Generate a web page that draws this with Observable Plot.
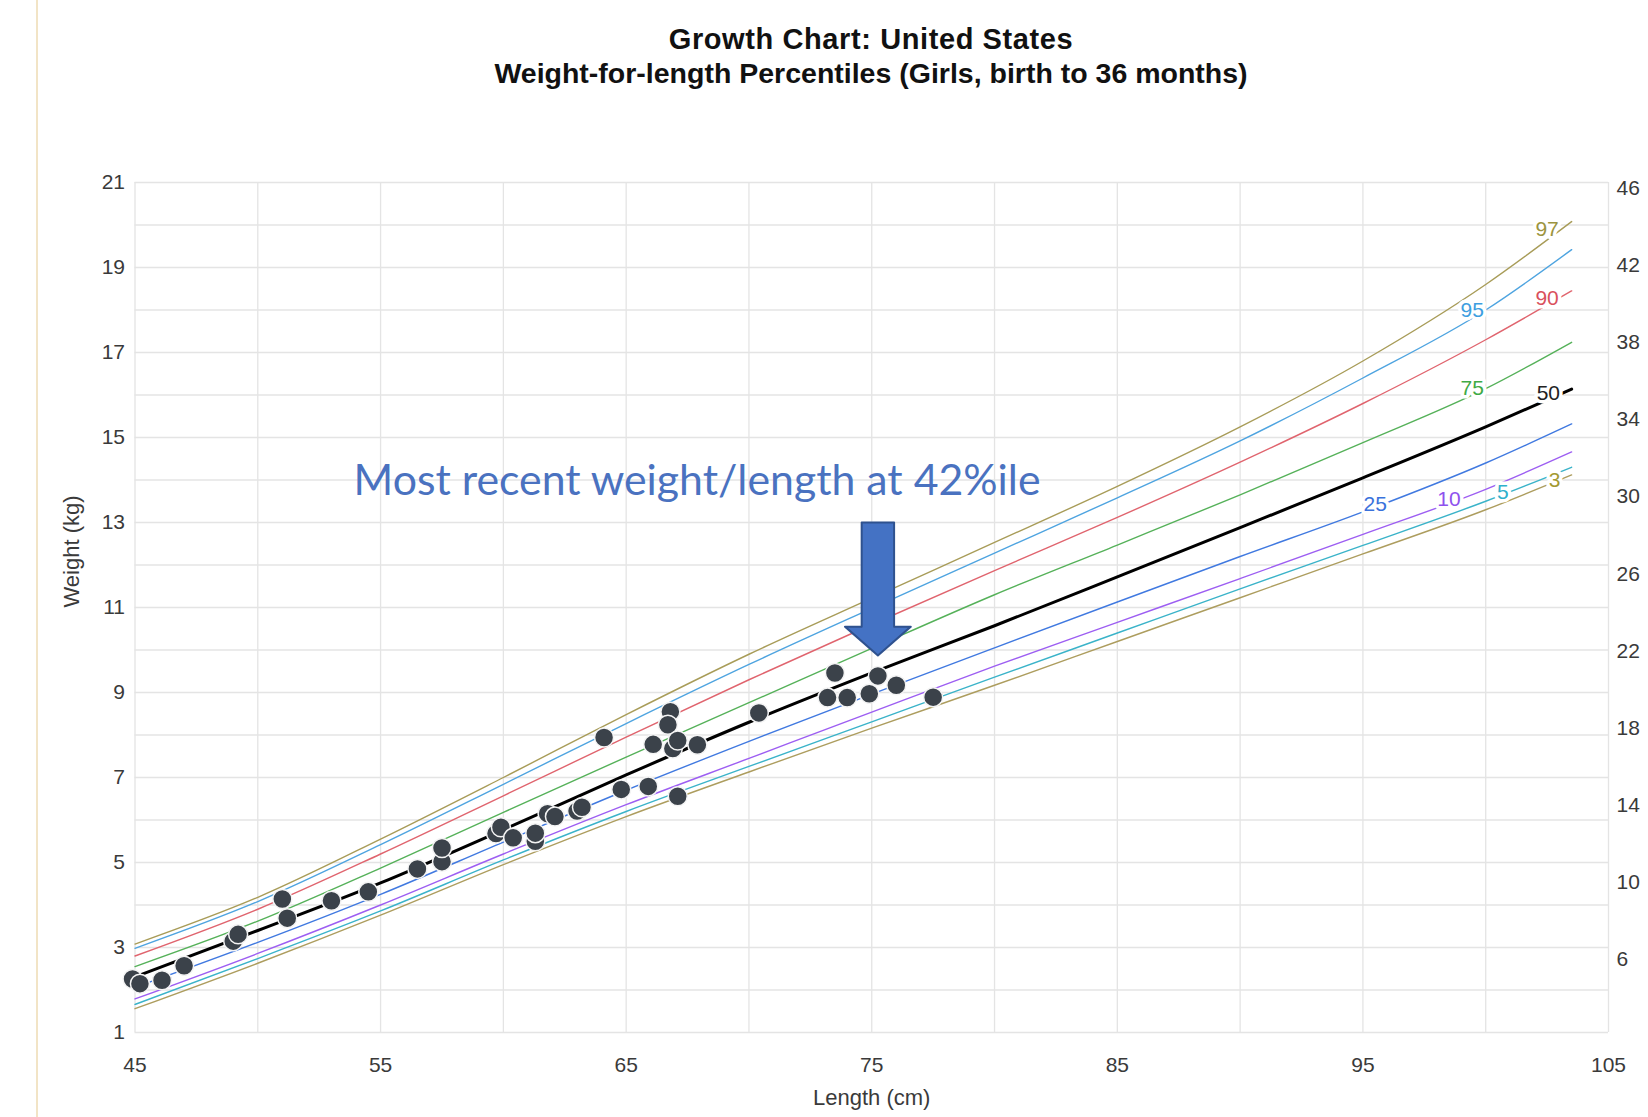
<!DOCTYPE html>
<html>
<head>
<meta charset="utf-8">
<script src="https://cdn.jsdelivr.net/npm/d3@7"></script>
<script src="https://cdn.jsdelivr.net/npm/@observablehq/plot@0.6"></script>
<style>
  html, body { margin: 0; padding: 0; background: #fff; }
  #page { position: relative; width: 1648px; height: 1117px; overflow: hidden; background: #fff;
          font-family: "Liberation Sans", Arial, Helvetica, sans-serif; }
  #edge { position: absolute; left: 36px; top: 0; width: 2px; height: 1117px; background: #f2e4c6; }
  #head { position: absolute; left: 0; top: 0; width: 1648px; height: 130px; }
  .t { position: absolute; left: 0; width: 1742px; text-align: center; color: #111; font-weight: bold; white-space: nowrap; line-height: 1; }
  #t1 { top: 25px; font-size: 29px; letter-spacing: 0.6px; }
  #t2 { top: 59px; font-size: 28.5px; }
  #chart { position: absolute; left: 0; top: 130px; }
</style>
</head>
<body>
<div id="page">
  <div id="head">
    <div class="t" id="t1">Growth Chart: United States</div>
    <div class="t" id="t2">Weight-for-length Percentiles (Girls, birth to 36 months)</div>
  </div>
  <div id="chart"></div>
  <div id="edge"></div>
</div>
<script>
// ---------- data ----------
const lengthsCm = [45, 50, 55, 60, 65, 70, 75, 80, 85, 90, 95, 100, 103.5];
const p97 = [3.08, 4.18, 5.55, 7.00, 8.48, 9.90, 11.22, 12.53, 13.85, 15.25, 16.80, 18.60, 20.08];
const p95 = [2.98, 4.08, 5.42, 6.84, 8.27, 9.66, 10.98, 12.28, 13.58, 14.92, 16.40, 18.00, 19.42];
const p90 = [2.80, 3.90, 5.20, 6.57, 7.95, 9.30, 10.60, 11.87, 13.12, 14.42, 15.80, 17.30, 18.45];
const p75 = [2.55, 3.62, 4.87, 6.18, 7.48, 8.76, 10.04, 11.30, 12.47, 13.65, 14.88, 16.15, 17.24];
const p50 = [2.31, 3.40, 4.52, 5.77, 7.06, 8.30, 9.46, 10.57, 11.72, 12.88, 14.05, 15.25, 16.14];
const p25 = [2.06, 3.12, 4.25, 5.48, 6.70, 7.85, 8.96, 10.05, 11.13, 12.20, 13.25, 14.40, 15.32];
const p10 = [1.79, 2.86, 4.00, 5.20, 6.36, 7.45, 8.54, 9.62, 10.65, 11.68, 12.72, 13.78, 14.66];
const p5  = [1.66, 2.74, 3.86, 5.06, 6.20, 7.26, 8.31, 9.36, 10.40, 11.44, 12.46, 13.50, 14.30];
const p3  = [1.56, 2.63, 3.76, 4.95, 6.08, 7.13, 8.16, 9.17, 10.20, 11.23, 12.26, 13.30, 14.12];

const percentileNames = ["97", "95", "90", "75", "50", "25", "10", "5", "3"];
const percentileSeries = [p97, p95, p90, p75, p50, p25, p10, p5, p3];
const percentileColors = ["#a89c58", "#4ea4e0", "#e0646e", "#55b159", "#000000", "#4079e0", "#9d5ef2", "#3ab3c9", "#ad9d5e"];
const labelColors      = ["#9b9440", "#3d9ee0", "#d9505c", "#3faa45", "#222222", "#3a72dc", "#8e52ee", "#2fb0cc", "#a49a32"];
const labelLength = [102.5, 99.45, 102.5, 99.45, 102.55, 95.5, 98.5, 100.7, 102.8];
const labelWeight = [19.90, 18.00, 18.28, 16.15, 16.04, 13.42, 13.55, 13.70, 14.00];

// clinic visits (length cm, weight kg); the last one is the most recent
const visitLength = [44.9, 45.2, 46.1, 47.0, 49.0, 49.2, 51.0, 51.2, 53.0, 54.5, 56.5, 57.5, 57.5, 59.7, 59.9, 60.4,
                     61.3, 61.3, 61.8, 62.1, 63.0, 63.2, 64.1, 64.8, 65.9, 66.1, 66.8, 66.7, 66.9, 67.1, 67.1, 67.9,
                     70.4, 73.2, 73.5, 74.0, 74.9, 76.0, 77.5, 75.25];
const visitWeight = [2.26, 2.15, 2.23, 2.57, 3.15, 3.31, 4.14, 3.69, 4.10, 4.31, 4.85, 5.02, 5.34, 5.68, 5.83, 5.58,
                     5.50, 5.69, 6.15, 6.08, 6.21, 6.30, 7.94, 6.72, 6.79, 7.78, 8.55, 8.24, 7.68, 7.87, 6.56, 7.77,
                     8.52, 8.88, 9.46, 8.88, 8.97, 9.17, 8.89, 9.39];

const xTicks = [45, 55, 65, 75, 85, 95, 105];
const xGrid = [45, 50, 55, 60, 65, 70, 75, 80, 85, 90, 95, 100, 105];
const yTicks = [1, 3, 5, 7, 9, 11, 13, 15, 17, 19, 21];
const yGrid = [1, 2, 3, 4, 5, 6, 7, 8, 9, 10, 11, 12, 13, 14, 15, 16, 17, 18, 19, 20, 21];
const lbTicks = [6, 10, 14, 18, 22, 26, 30, 34, 38, 42, 46];

const annotationText = "Most recent weight/length at 42%ile";
const annotationAt = {length: 53.9, weight: 13.97};

// ---------- build tables ----------
const KG_PER_LB = 0.45359237;
const curves = percentileNames.map((name, i) =>
  lengthsCm.map((len, j) => ({pct: name, length: len, weight: percentileSeries[i][j]})));
const labels = percentileNames.map((name, i) =>
  ({pct: name, length: labelLength[i], weight: labelWeight[i], color: labelColors[i]}));
const visits = visitLength.map((len, i) => ({length: len, weight: visitWeight[i]}));

// block arrow pointing at the most recent visit
const last = visits[visits.length - 1];
const arrowTop = 13.0, arrowHeadBase = 10.55, arrowTipGap = 0.48, shaftHalf = 0.66, headHalf = 1.34;
const arrow = [
  [last.length - shaftHalf, arrowTop],
  [last.length + shaftHalf, arrowTop],
  [last.length + shaftHalf, arrowHeadBase],
  [last.length + headHalf, arrowHeadBase],
  [last.length, last.weight + arrowTipGap],
  [last.length - headHalf, arrowHeadBase],
  [last.length - shaftHalf, arrowHeadBase]
];

const gridColor = "#e4e4e4";
const tickColor = "#3a3a3a";

const lineMarks = percentileNames.map((name, i) =>
  Plot.line(curves[i], {
    x: "length", y: "weight",
    stroke: percentileColors[i],
    strokeWidth: name === "50" ? 3 : 1.4,
    curve: "monotone-x"
  }));

const chart = Plot.plot({
  width: 1648,
  height: 987,
  marginLeft: 134.5,
  marginRight: 40,
  marginTop: 52,
  marginBottom: 85,
  style: {fontFamily: '"Liberation Sans", Arial, Helvetica, sans-serif', background: "#fff", overflow: "visible"},
  x: {domain: [45, 105]},
  y: {domain: [1, 21]},
  color: {type: "identity"},
  marks: [
    Plot.ruleX(xGrid, {stroke: gridColor, strokeWidth: 1.3}),
    Plot.ruleY(yGrid, {stroke: gridColor, strokeWidth: 1.3}),
    Plot.axisX(xTicks, {tickSize: 0, tickPadding: 25, fontSize: 21, color: tickColor, label: null}),
    Plot.axisY(yTicks, {anchor: "left", tickSize: 0, tickPadding: 10, fontSize: 21, color: tickColor, label: null}),
    Plot.axisY(lbTicks.map(lb => lb * KG_PER_LB), {
      anchor: "right", tickSize: 0, tickPadding: 8, fontSize: 21, color: tickColor, label: null,
      tickFormat: d => String(Math.round(d / KG_PER_LB))
    }),
    Plot.text(["Length (cm)"], {frameAnchor: "bottom", dy: 72, fontSize: 22, fill: tickColor, text: d => d}),
    Plot.text(["Weight (kg)"], {frameAnchor: "left", dx: -63, rotate: -90, fontSize: 22, fill: tickColor, text: d => d}),
    ...lineMarks,
    Plot.text(labels, {
      x: "length", y: "weight", text: "pct", fill: "color",
      stroke: "white", strokeWidth: 7, fontSize: 21
    }),
    Plot.dot(visits, {x: "length", y: "weight", r: 9.5, fill: "#3b424a", stroke: "#f4f4f4", strokeWidth: 1.5}),
    Plot.text([annotationAt], {
      x: "length", y: "weight", text: () => annotationText, textAnchor: "start",
      fontSize: 42, fontFamily: "Lato, 'Open Sans', sans-serif", fill: "#4a72c0"
    }),
    Plot.line(arrow, {x: d => d[0], y: d => d[1], curve: "linear-closed", fill: "#4472c4", stroke: "#2f528f", strokeWidth: 2})
  ]
});

for (const t of chart.querySelectorAll("text")) {
  if (t.textContent === annotationText) {
    t.setAttribute("textLength", "687");
    t.setAttribute("lengthAdjust", "spacingAndGlyphs");
  }
}
document.getElementById("chart").appendChild(chart);
</script>
</body>
</html>
